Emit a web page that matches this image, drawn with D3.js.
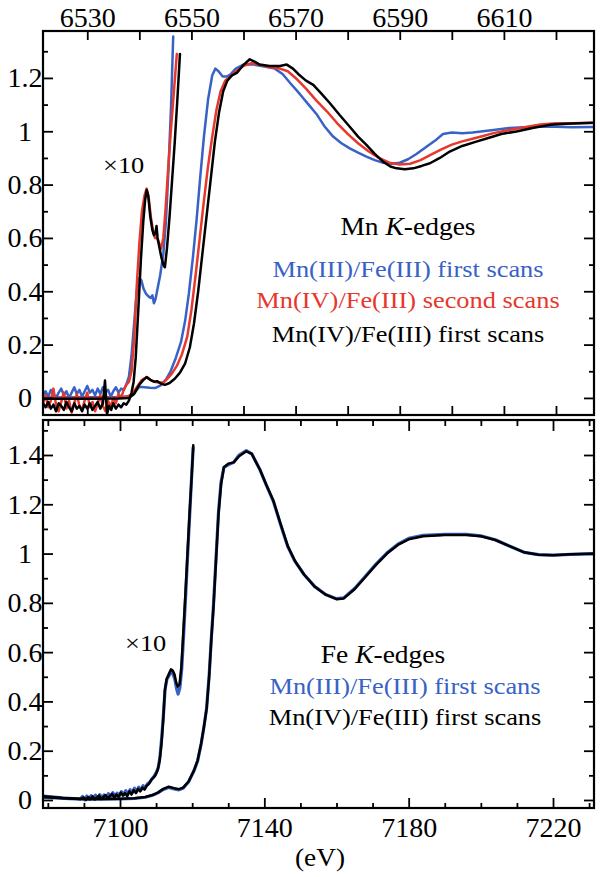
<!DOCTYPE html>
<html><head><meta charset="utf-8">
<script src="https://cdn.jsdelivr.net/npm/d3@7"></script>
<style>body{margin:0;background:#fff}svg{display:block}</style>
</head><body><svg id="c" width="600" height="877"></svg>
<script>
// ---------------- DATA ----------------
const mnXLabels = [6530, 6550, 6570, 6590, 6610];
const mnXTicks = [6530, 6540, 6550, 6560, 6570, 6580, 6590, 6600, 6610, 6620];
const mnYLabels = [0, 0.2, 0.4, 0.6, 0.8, 1, 1.2];
const mnYMinor = [0.1, 0.3, 0.5, 0.7, 0.9, 1.1, 1.3];
const feXLabels = [7100, 7140, 7180, 7220];
const feXTicks = [7080, 7090, 7100, 7110, 7120, 7130, 7140, 7150, 7160, 7170, 7180, 7190, 7200, 7210, 7220, 7230];
const feYLabels = [0, 0.2, 0.4, 0.6, 0.8, 1, 1.2, 1.4];
const feYMinor = [0.1, 0.3, 0.5, 0.7, 0.9, 1.1, 1.3, 1.5];

const seriesNames = ["Mn(III)/Fe(III) first scans", "Mn(IV)/Fe(III) second scans", "Mn(IV)/Fe(III) first scans"];
const seriesColors = ["#3862c6", "#e8372c", "#000000"];

// Mn K-edge, normal scale [eV, value]
const mnBlue = [[6521.5,0.002],[6530,0.003],[6536,0.003],[6538,0.006],[6539,0.018],[6540,0.042],[6541,0.04],[6542,0.038],[6543,0.037],[6544,0.046],[6545,0.065],[6546,0.1],[6547,0.15],[6548,0.21],[6548.8,0.29],[6549.5,0.39],[6550.3,0.53],[6551,0.67],[6551.7,0.83],[6552.4,0.98],[6553.2,1.12],[6554,1.21],[6554.6,1.235],[6555.2,1.225],[6556,1.205],[6556.8,1.205],[6557.6,1.215],[6558.5,1.235],[6560,1.25],[6562,1.25],[6564,1.243],[6566,1.235],[6567.5,1.215],[6569,1.18],[6570.8,1.14],[6572.5,1.1],[6574,1.065],[6575.5,1.02],[6577.2,0.98],[6578.8,0.955],[6580.4,0.936],[6582,0.92],[6583.6,0.905],[6585.2,0.892],[6586.8,0.882],[6588.4,0.878],[6590,0.882],[6591.6,0.895],[6593.2,0.915],[6595,0.94],[6596.8,0.965],[6598.3,0.99],[6600,0.995],[6602,0.993],[6604,0.995],[6606,1.0],[6608,1.005],[6611,1.012],[6614,1.015],[6617,1.018],[6620,1.017],[6623,1.015],[6627.3,1.016]];
const mnRed = [[6521.5,-0.001],[6530,0.0],[6536,0.001],[6537.5,0.004],[6538.5,0.012],[6539.5,0.04],[6540.5,0.068],[6541.4,0.078],[6542.2,0.067],[6543,0.06],[6543.8,0.058],[6544.5,0.058],[6545.3,0.07],[6546.2,0.09],[6547.2,0.12],[6548.2,0.165],[6549.2,0.23],[6550,0.33],[6550.8,0.46],[6551.6,0.6],[6552.4,0.74],[6553.2,0.87],[6554,0.98],[6554.8,1.08],[6555.6,1.15],[6556.5,1.19],[6557.5,1.205],[6558.5,1.225],[6560,1.245],[6561.5,1.255],[6563,1.25],[6565,1.24],[6567,1.235],[6568.5,1.225],[6570,1.2],[6572,1.16],[6574,1.115],[6576,1.075],[6578,1.03],[6580,0.99],[6582,0.955],[6584,0.925],[6586,0.9],[6588,0.882],[6590,0.875],[6592,0.878],[6594,0.892],[6596,0.912],[6598,0.932],[6600,0.95],[6602,0.962],[6604,0.972],[6606,0.982],[6608,0.993],[6611,1.005],[6614,1.015],[6617,1.025],[6620,1.03],[6623,1.03],[6627.3,1.032]];
const mnBlack = [[6521.5,-0.003],[6530,-0.003],[6536,-0.002],[6538,0.0],[6539,0.015],[6540,0.05],[6540.7,0.066],[6541.4,0.078],[6542.1,0.068],[6542.8,0.061],[6543.4,0.063],[6544.2,0.053],[6544.9,0.049],[6545.8,0.056],[6546.8,0.072],[6547.8,0.095],[6548.8,0.13],[6549.7,0.19],[6550.5,0.28],[6551.3,0.4],[6552.1,0.54],[6552.9,0.68],[6553.7,0.82],[6554.5,0.96],[6555.3,1.07],[6556.1,1.15],[6556.9,1.19],[6557.8,1.21],[6558.8,1.22],[6559.8,1.245],[6561.2,1.27],[6562.2,1.26],[6563.1,1.25],[6565,1.245],[6567,1.245],[6568.3,1.25],[6569.5,1.235],[6570.5,1.215],[6572,1.19],[6573.4,1.174],[6575,1.14],[6576.6,1.105],[6578.5,1.06],[6580.4,1.017],[6582,0.98],[6583.6,0.949],[6585.2,0.915],[6586.8,0.886],[6588.2,0.868],[6589.4,0.861],[6591,0.858],[6592.6,0.861],[6594.2,0.87],[6595.8,0.88],[6597.7,0.9],[6599.6,0.924],[6602,0.945],[6604.7,0.961],[6607,0.975],[6609.5,0.99],[6612.4,0.999],[6615.5,1.012],[6618.8,1.024],[6622,1.028],[6627.3,1.032]];

// Mn K-edge pre-edge, x10
const mnBlueX10 = [[6521.5,0.01],[6522,0.025],[6522.5,0.005],[6523,0.03],[6523.5,0.015],[6524,0.0],[6524.5,0.02],[6525,0.035],[6525.5,0.01],[6526,0.025],[6526.5,0.0],[6527,0.02],[6527.5,0.04],[6528,0.015],[6528.5,0.03],[6529,0.005],[6529.5,0.025],[6530,0.045],[6530.5,0.02],[6531,0.03],[6531.5,0.01],[6532,0.035],[6532.5,0.015],[6533,0.04],[6533.5,0.02],[6534,0.03],[6534.5,0.005],[6535,0.025],[6535.5,0.04],[6536,0.02],[6536.5,0.035],[6537,0.03],[6537.5,0.05],[6538,0.08],[6538.5,0.16],[6539,0.28],[6539.5,0.4],[6540,0.45],[6540.4,0.44],[6540.8,0.41],[6541.3,0.39],[6541.8,0.38],[6542.2,0.375],[6542.5,0.385],[6542.8,0.355],[6543.1,0.37],[6543.5,0.41],[6544,0.46],[6544.6,0.54],[6545.1,0.66],[6545.6,0.86],[6546.1,1.1],[6546.5,1.355]];
const mnRedX10 = [[6521.5,-0.02],[6522,0.01],[6522.5,-0.035],[6523,-0.01],[6523.5,0.035],[6524,-0.025],[6524.5,-0.05],[6525,-0.015],[6525.5,0.02],[6526,-0.04],[6526.5,-0.01],[6527,-0.055],[6527.5,-0.02],[6528,0.015],[6528.5,-0.03],[6529,-0.045],[6529.5,-0.01],[6530,0.02],[6530.5,-0.035],[6531,-0.015],[6531.5,-0.05],[6532,-0.02],[6532.5,0.01],[6533,-0.03],[6533.5,-0.05],[6534,-0.01],[6534.5,-0.035],[6535,0.0],[6535.5,-0.02],[6536,0.015],[6536.5,0.0],[6537,0.03],[6537.5,0.05],[6538,0.06],[6538.5,0.1],[6539,0.22],[6539.5,0.42],[6540,0.58],[6540.5,0.7],[6541,0.76],[6541.4,0.785],[6541.8,0.75],[6542.2,0.68],[6542.6,0.63],[6543,0.6],[6543.4,0.6],[6543.8,0.58],[6544.2,0.56],[6544.6,0.6],[6545,0.7],[6545.5,0.85],[6546,0.99],[6546.6,1.14],[6547.2,1.29]];
const mnBlackX10 = [[6521.5,-0.02],[6522,-0.035],[6522.5,-0.015],[6523,-0.04],[6523.5,-0.025],[6524,-0.05],[6524.5,-0.02],[6525,-0.03],[6525.5,-0.045],[6526,-0.015],[6526.5,-0.035],[6527,-0.05],[6527.5,-0.02],[6528,-0.04],[6528.5,-0.03],[6529,-0.05],[6529.5,-0.025],[6530,-0.04],[6530.5,-0.02],[6531,-0.045],[6531.5,-0.03],[6532,-0.015],[6532.5,-0.04],[6533,-0.02],[6533.4,0.065],[6533.8,-0.06],[6534.2,-0.03],[6534.6,-0.045],[6535,-0.02],[6535.5,-0.04],[6536,-0.025],[6536.5,-0.035],[6537,-0.02],[6537.5,-0.025],[6538,-0.01],[6538.5,0.02],[6538.9,0.06],[6539.3,0.15],[6539.8,0.33],[6540.3,0.52],[6540.75,0.66],[6541.1,0.74],[6541.4,0.78],[6541.7,0.76],[6542.1,0.68],[6542.5,0.63],[6542.8,0.61],[6543.1,0.62],[6543.3,0.645],[6543.5,0.6],[6543.8,0.57],[6544.2,0.53],[6544.6,0.5],[6544.9,0.49],[6545.3,0.56],[6545.8,0.68],[6546.3,0.82],[6546.8,0.96],[6547.3,1.12],[6547.8,1.29]];

// Fe K-edge, normal scale
const feBlue = [[7078.7,0.011],[7082,0.008],[7086,0.005],[7090,0.003],[7095,0.003],[7100,0.004],[7104,0.006],[7107,0.011],[7109,0.019],[7110.5,0.029],[7112,0.043],[7113.5,0.051],[7115,0.045],[7116.3,0.041],[7117.5,0.048],[7119,0.073],[7120.5,0.118],[7121.5,0.158],[7122.5,0.228],[7123.3,0.3],[7124,0.372],[7124.7,0.505],[7125.3,0.655],[7125.9,0.79],[7126.6,0.98],[7127.3,1.17],[7128,1.29],[7128.8,1.35],[7130,1.36],[7131.5,1.37],[7133,1.4],[7135,1.418],[7136.5,1.405],[7138.8,1.34],[7140.5,1.28],[7142.5,1.212],[7144.5,1.118],[7146.5,1.028],[7148.5,0.968],[7151,0.915],[7154,0.866],[7157,0.834],[7160,0.817],[7162,0.82],[7165,0.858],[7168,0.908],[7171,0.958],[7174,1.003],[7177,1.038],[7180,1.062],[7184,1.074],[7190,1.078],[7196,1.078],[7200,1.072],[7204,1.056],[7208,1.03],[7212,1.005],[7216,0.996],[7220,0.994],[7225,0.997],[7231.4,0.999]];
const feBlack = [[7078.7,0.012],[7082,0.009],[7086,0.006],[7090,0.004],[7095,0.004],[7100,0.005],[7104,0.007],[7107,0.012],[7109,0.02],[7110.5,0.03],[7112,0.045],[7113.5,0.054],[7115,0.048],[7116.3,0.044],[7117.5,0.05],[7119,0.075],[7120.5,0.12],[7121.5,0.16],[7122.5,0.23],[7123.3,0.3],[7124,0.37],[7124.7,0.5],[7125.3,0.65],[7125.9,0.78],[7126.6,0.97],[7127.3,1.16],[7128,1.28],[7128.8,1.35],[7130,1.365],[7131.5,1.37],[7133,1.395],[7135,1.415],[7136.5,1.405],[7138.8,1.34],[7140.5,1.28],[7142.5,1.215],[7144.5,1.12],[7146.5,1.03],[7148.5,0.97],[7151,0.915],[7154,0.865],[7157,0.833],[7160,0.815],[7162,0.818],[7165,0.855],[7168,0.905],[7171,0.955],[7174,1.0],[7177,1.035],[7180,1.058],[7184,1.07],[7190,1.075],[7196,1.075],[7200,1.07],[7204,1.055],[7208,1.03],[7212,1.005],[7216,0.995],[7220,0.993],[7225,0.997],[7231.4,1.0]];
const feBlueX10 = [[7078.7,0.016],[7081,0.013],[7084,0.009],[7087,0.006],[7089,0.004],[7089.6,0.014],[7090.2,0.0],[7090.8,0.016],[7091.4,0.002],[7092,0.018],[7092.6,0.005],[7093.2,0.02],[7093.8,0.006],[7094.4,0.022],[7095,0.008],[7095.6,0.02],[7096.2,0.01],[7096.8,0.026],[7097.4,0.012],[7098,0.03],[7098.6,0.015],[7099.2,0.028],[7099.8,0.016],[7100.4,0.034],[7101,0.02],[7101.6,0.038],[7102.2,0.024],[7102.8,0.042],[7103.4,0.03],[7104,0.048],[7104.6,0.034],[7105.2,0.052],[7105.8,0.04],[7106.4,0.058],[7107,0.05],[7107.6,0.066],[7108.2,0.072],[7108.8,0.085],[7109.4,0.095],[7110,0.11],[7110.6,0.13],[7111.1,0.18],[7111.6,0.26],[7112.1,0.36],[7112.5,0.45],[7113,0.49],[7113.6,0.505],[7114.2,0.52],[7114.7,0.51],[7115.2,0.49],[7115.7,0.45],[7116.1,0.43],[7116.6,0.455],[7117.1,0.53],[7117.6,0.66],[7118.2,0.83],[7118.8,1.01],[7119.4,1.18],[7119.9,1.33],[7120.3,1.43]];
const feBlackX10 = [[7078.7,0.015],[7081,0.012],[7084,0.008],[7087,0.006],[7089,0.004],[7090,0.01],[7090.6,0.0],[7091.2,0.012],[7091.8,0.003],[7092.4,0.015],[7093,0.002],[7093.6,0.01],[7094.2,0.018],[7094.8,0.004],[7095.4,0.012],[7096,0.02],[7096.6,0.006],[7097.2,0.016],[7097.8,0.025],[7098.4,0.01],[7099,0.022],[7099.6,0.012],[7100.2,0.03],[7100.8,0.018],[7101.4,0.028],[7102,0.015],[7102.6,0.035],[7103.2,0.022],[7103.8,0.04],[7104.4,0.028],[7105,0.045],[7105.6,0.035],[7106.2,0.05],[7106.8,0.042],[7107.4,0.058],[7108,0.065],[7108.6,0.08],[7109.2,0.09],[7109.8,0.1],[7110.4,0.12],[7111,0.16],[7111.5,0.23],[7112,0.33],[7112.4,0.44],[7112.9,0.49],[7113.5,0.51],[7114.1,0.53],[7114.6,0.525],[7115.1,0.51],[7115.6,0.475],[7116,0.46],[7116.5,0.47],[7117,0.54],[7117.5,0.67],[7118.1,0.83],[7118.7,1.0],[7119.3,1.17],[7119.9,1.32],[7120.3,1.44]];

// ---------------- DRAWING ----------------
const svg = d3.select("#c");
const FONT = "Liberation Serif, Times New Roman, serif";
const L = 43, R = 594;
const top1 = 31, bot1 = 415, top2 = 420, bot2 = 808;
const TICKFS = 28;

const xMn = d3.scaleLinear().domain([6521.5, 6627.3]).range([L, R]);
const yMn = d3.scaleLinear().domain([-0.064, 1.376]).range([bot1, top1]);
const xFe = d3.scaleLinear().domain([7078.66, 7231.36]).range([L, R]);
const yFe = d3.scaleLinear().domain([-0.0325, 1.542]).range([bot2, top2]);

function clip(id, y0, y1) {
  svg.append("clipPath").attr("id", id).append("rect")
    .attr("x", L).attr("y", y0).attr("width", R - L).attr("height", y1 - y0);
}
clip("c1", top1, bot1); clip("c2", top2, bot2);

function drawLine(data, x, y, color, cp, w) {
  svg.append("path").datum(data)
    .attr("clip-path", `url(#${cp})`)
    .attr("fill", "none").attr("stroke", color).attr("stroke-width", w)
    .attr("stroke-linejoin", "round").attr("stroke-linecap", "round")
    .attr("d", d3.line().x(d => x(d[0])).y(d => y(d[1])));
}

// Top panel lines
[[mnBlue, mnBlueX10], [mnRed, mnRedX10], [mnBlack, mnBlackX10]].forEach((pair, i) => {
  drawLine(pair[1], xMn, yMn, seriesColors[i], "c1", 2.5);
  drawLine(pair[0], xMn, yMn, seriesColors[i], "c1", 2.5);
});
// Bottom panel lines
drawLine(feBlueX10, xFe, yFe, seriesColors[0], "c2", 3.2);
drawLine(feBlue, xFe, yFe, seriesColors[0], "c2", 3.2);
drawLine(feBlackX10, xFe, yFe, seriesColors[2], "c2", 2.5);
drawLine(feBlack, xFe, yFe, seriesColors[2], "c2", 2.5);

// Axes
function styleAxis(g) {
  g.attr("font-family", FONT).attr("font-size", TICKFS);
  g.select(".domain").remove();
  g.selectAll("line").attr("stroke", "#000").attr("stroke-width", 1.8);
  g.selectAll("text").attr("fill", "#000").style("font-size", TICKFS + "px").style("font-family", FONT);
}
function ax(gen, tx, ty) {
  const g = svg.append("g").attr("transform", `translate(${tx},${ty})`).call(gen);
  styleAxis(g);
  return g;
}
const fmtY = d => d3.format("~g")(d);
const fmtX = d3.format("d");

// top panel x
ax(d3.axisTop(xMn).tickValues(mnXTicks).tickSize(-9).tickPadding(4)
  .tickFormat(d => mnXLabels.includes(d) ? fmtX(d) : ""), 0, top1);
ax(d3.axisBottom(xMn).tickValues(mnXTicks).tickSize(-9).tickFormat(""), 0, bot1);
// top panel y
const gy1 = ax(d3.axisLeft(yMn).tickValues(mnYLabels).tickSize(-10).tickFormat(fmtY), L, 0);
gy1.selectAll("text").attr("x", -18).attr("text-anchor", "middle");
ax(d3.axisLeft(yMn).tickValues(mnYMinor).tickSize(-5).tickFormat(""), L, 0);
ax(d3.axisRight(yMn).tickValues(mnYLabels).tickSize(-10).tickFormat(""), R, 0);
ax(d3.axisRight(yMn).tickValues(mnYMinor).tickSize(-5).tickFormat(""), R, 0);

// bottom panel x
const feMinorX = feXTicks.filter(d => !feXLabels.includes(d));
ax(d3.axisTop(xFe).tickValues(feXLabels).tickSize(-11).tickFormat(""), 0, top2);
ax(d3.axisTop(xFe).tickValues(feMinorX).tickSize(-6).tickFormat(""), 0, top2);
ax(d3.axisBottom(xFe).tickValues(feXLabels).tickSize(-10).tickPadding(9).tickFormat(fmtX), 0, bot2);
ax(d3.axisBottom(xFe).tickValues(feMinorX).tickSize(-5).tickFormat(""), 0, bot2);
// bottom panel y
const gy2 = ax(d3.axisLeft(yFe).tickValues(feYLabels).tickSize(-10).tickFormat(fmtY), L, 0);
gy2.selectAll("text").attr("x", -18).attr("text-anchor", "middle");
ax(d3.axisLeft(yFe).tickValues(feYMinor).tickSize(-5).tickFormat(""), L, 0);
ax(d3.axisRight(yFe).tickValues(feYLabels).tickSize(-10).tickFormat(""), R, 0);
ax(d3.axisRight(yFe).tickValues(feYMinor).tickSize(-5).tickFormat(""), R, 0);

// Frames
[[top1, bot1], [top2, bot2]].forEach(([a, b]) => {
  svg.append("rect").attr("x", L).attr("y", a).attr("width", R - L).attr("height", b - a)
    .attr("fill", "none").attr("stroke", "#000").attr("stroke-width", 2.2);
});

// Texts
function txt(x, y, color, anchor, sx, fs) {
  const g = svg.append("g").attr("transform", `translate(${x},${y}) scale(${sx || 1.1},1)`);
  return g.append("text").attr("font-family", FONT).attr("font-size", fs || 24)
    .attr("fill", color).attr("text-anchor", anchor || "middle");
}
txt(103, 173, "#000", "start").text("×10");
txt(125, 651, "#000", "start").text("×10");
function edgeLabel(x, y, el) {
  const t = txt(x, y, "#000", "middle", 1.1, 25);
  t.append("tspan").text(el + " ");
  t.append("tspan").attr("font-style", "italic").text("K");
  t.append("tspan").text("-edges");
}
edgeLabel(408, 235, "Mn");
edgeLabel(383, 663, "Fe");
[277, 308, 342].forEach((y, i) => txt(408, y, seriesColors[i], "middle").text(seriesNames[i]));
txt(405, 694, seriesColors[0], "middle").text(seriesNames[0]);
txt(405, 725, seriesColors[2], "middle").text(seriesNames[2]);
txt(320, 866, "#000", "middle", 1.05, 26).text("(eV)");
</script></body></html>
